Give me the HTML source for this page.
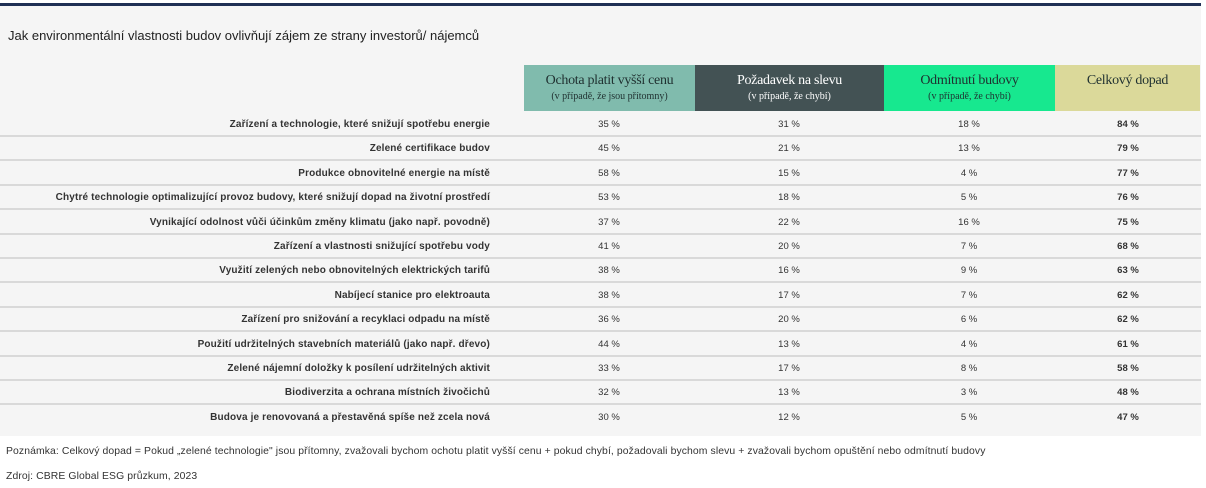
<!DOCTYPE html>
<html><head><meta charset="utf-8"><style>
body{margin:0;width:1206px;height:488px;background:#fff;font-family:"Liberation Sans",sans-serif;position:relative;overflow:hidden}
#panel{position:absolute;left:0;top:3px;width:1201px;height:433px;background:#f5f5f5;border-top:3px solid #1f3055;box-sizing:border-box}
#title{position:absolute;left:8px;top:28px;font-size:13px;color:#222}
.h{position:absolute;top:65px;height:46px;text-align:center;font-family:"Liberation Serif",serif;box-sizing:border-box;padding-top:8px}
.h .a{font-size:14px;letter-spacing:-0.3px}.h .b{font-size:10px;margin-top:2px}
.row{position:absolute;left:0;width:1201px;height:24px;border-bottom:2px solid #d9d9d9;font-size:9.5px;color:#333}
.row.last{border-bottom:none}
.row span{position:absolute;top:8px}
.lab{right:711px;font-weight:bold;text-align:right;white-space:nowrap;font-size:10px;letter-spacing:0.15px}
.v{width:80px;margin-left:-40px;text-align:center}
.note{position:absolute;left:6px;font-size:10.4px;color:#333;letter-spacing:0.1px}
</style></head><body>
<div id="panel"></div>
<div id="title">Jak environmentální vlastnosti budov ovlivňují zájem ze strany investorů/ nájemců</div>
<div class="h" style="left:524px;width:171px;background:#80bbad;color:#1f3030"><div class="a">Ochota platit vyšší cenu</div><div class="b">(v případě, že jsou přítomny)</div></div>
<div class="h" style="left:695px;width:189px;background:#435254;color:#fff"><div class="a">Požadavek na slevu</div><div class="b">(v případě, že chybí)</div></div>
<div class="h" style="left:884px;width:171px;background:#17e88f;color:#1f3030"><div class="a">Odmítnutí budovy</div><div class="b">(v případě, že chybí)</div></div>
<div class="h" style="left:1055px;width:145px;background:#dbd99a;color:#1f3030"><div class="a">Celkový dopad</div></div>
<div id="rows"></div>
<div class="note" style="top:446px">Poznámka: Celkový dopad = Pokud „zelené technologie" jsou přítomny, zvažovali bychom ochotu platit vyšší cenu + pokud chybí, požadovali bychom slevu + zvažovali bychom opuštění nebo odmítnutí budovy</div>
<div class="note" style="top:471px">Zdroj: CBRE Global ESG průzkum, 2023</div>
<script>
const categories=["Zařízení a technologie, které snižují spotřebu energie","Zelené certifikace budov","Produkce obnovitelné energie na místě","Chytré technologie optimalizující provoz budovy, které snižují dopad na životní prostředí","Vynikající odolnost vůči účinkům změny klimatu (jako např. povodně)","Zařízení a vlastnosti snižující spotřebu vody","Využití zelených nebo obnovitelných elektrických tarifů","Nabíjecí stanice pro elektroauta","Zařízení pro snižování a recyklaci odpadu na místě","Použití udržitelných stavebních materiálů (jako např. dřevo)","Zelené nájemní doložky k posílení udržitelných aktivit","Biodiverzita a ochrana místních živočichů","Budova je renovovaná a přestavěná spíše než zcela nová"];
const payMore=[35,45,58,53,37,41,38,38,36,44,33,32,30];
const discount=[31,21,15,18,22,20,16,17,20,13,17,13,12];
const reject=[18,13,4,5,16,7,9,7,6,4,8,3,5];
const total=[84,79,77,76,75,68,63,62,62,61,58,48,47];
const wrap=document.getElementById('rows');
const cx=[609,789,969,1128];
categories.forEach((c,i)=>{
 const r=document.createElement('div');r.className='row'+(i==categories.length-1?' last':'');r.style.top=(111+i*24.4)+'px';
 
 
 const l=document.createElement('span');l.className='lab';l.textContent=c;
 
 
 r.appendChild(l);
 [payMore[i],discount[i],reject[i],total[i]].forEach((v,j)=>{
  const s=document.createElement('span');s.className='v';s.style.left=cx[j]+'px';s.textContent=v+' %';
  if(j==3)s.style.fontWeight='bold';
  
  
  r.appendChild(s);
 });
 wrap.appendChild(r);
});
</script>
</body></html>
